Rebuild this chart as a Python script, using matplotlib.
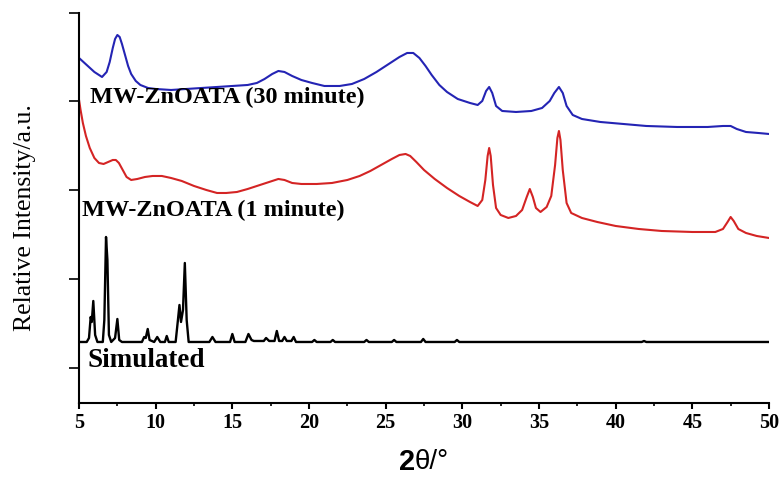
import matplotlib
matplotlib.use("Agg")
import matplotlib.pyplot as plt
from matplotlib.ticker import MultipleLocator

# --- XRD patterns: 2-theta (deg) vs stacked relative intensity (a.u.) ---
mw30_x = [5.0, 5.5, 6.0, 6.5, 6.8, 7.0, 7.2, 7.35, 7.5, 7.65, 7.8, 8.0, 8.2, 8.4,
          8.7, 9.0, 9.5, 10.0, 11.0, 12.0, 13.0, 14.0, 15.0, 16.0, 16.6, 17.1,
          17.6, 18.0, 18.4, 18.9, 19.5, 20.2, 21.0, 22.0, 22.8, 23.6, 24.4, 25.2,
          25.9, 26.4, 26.8, 27.2, 27.6, 28.0, 28.5, 29.0, 29.7, 30.5, 31.0, 31.3,
          31.55, 31.75, 31.95, 32.2, 32.6, 33.5, 34.5, 35.2, 35.7, 36.0, 36.3,
          36.55, 36.8, 37.2, 37.8, 39.0, 40.5, 42.0, 44.0, 46.0, 47.0, 47.5, 47.9,
          48.5, 49.3, 50.0]
mw30_y = [345, 338, 331, 326, 331, 341, 355, 364, 368, 366, 359, 348, 337, 329,
          322, 318, 315, 314, 313, 314, 315, 316, 317, 318, 320, 324,
          329, 332, 331, 327, 323, 320, 317, 317, 319, 324, 331, 339,
          346, 350, 350, 345, 337, 328, 318, 311, 304, 300, 298, 302,
          312, 316, 310, 297, 292, 291, 292, 295, 302, 310, 316,
          310, 297, 288, 284, 281, 279, 277, 276, 276, 277, 277, 274,
          271, 270, 269]

mw1_x = [5.0, 5.1, 5.25, 5.45, 5.7, 6.0, 6.3, 6.6, 6.9, 7.2, 7.4, 7.6, 7.85, 8.1,
         8.4, 8.8, 9.3, 9.8, 10.4, 11.0, 11.7, 12.5, 13.3, 14.0, 14.6, 15.3, 16.0,
         16.8, 17.4, 18.0, 18.4, 18.9, 19.5, 20.5, 21.5, 22.5, 23.3, 24.0, 24.7,
         25.4, 25.9, 26.3, 26.6, 27.0, 27.5, 28.2, 29.0, 29.8, 30.5, 31.0, 31.3,
         31.5, 31.65, 31.75, 31.85, 32.0, 32.2, 32.5, 33.0, 33.5, 33.9, 34.2, 34.4,
         34.6, 34.8, 35.1, 35.5, 35.8, 36.05, 36.2, 36.3, 36.4, 36.55, 36.8, 37.1,
         37.8, 38.8, 40.0, 41.5, 43.0, 45.0, 46.5, 47.0, 47.3, 47.5, 47.7, 48.0,
         48.5, 49.2, 50.0]
mw1_y = [303, 293, 280, 267, 255, 245, 240, 239, 241, 243, 243, 240, 233, 226,
         223, 224, 226, 227, 227, 225, 222, 217, 213, 210, 210, 211, 214,
         218, 221, 224, 223, 220, 219, 219, 220, 223, 227, 232, 238,
         244, 248, 249, 247, 241, 233, 224, 215, 207, 201, 197, 203,
         223, 247, 255, 247, 218, 195, 188, 185, 187, 193, 206, 214,
         206, 195, 191, 196, 207, 238, 265, 272, 263, 233, 200, 190,
         185, 181, 177, 174, 172, 171, 171, 174, 181, 186, 182, 174,
         170, 167, 165]

sim_x = [5.0, 5.5, 5.65, 5.76, 5.83, 5.93, 6.05, 6.2, 6.55, 6.65, 6.76, 6.85, 6.95,
         7.1, 7.35, 7.5, 7.62, 7.8, 9.1, 9.25, 9.35, 9.48, 9.6, 9.9, 10.1, 10.3,
         10.6, 10.72, 10.85, 11.3, 11.45, 11.55, 11.65, 11.78, 11.9, 12.02, 12.15,
         13.5, 13.7, 13.9, 14.85, 15.0, 15.15, 15.85, 16.05, 16.25, 16.4, 17.05,
         17.2, 17.4, 17.75, 17.9, 18.05, 18.25, 18.4, 18.55, 18.85, 19.0, 19.15,
         20.2, 20.35, 20.5, 21.4, 21.55, 21.7, 23.6, 23.75, 23.9, 25.4, 25.55,
         25.7, 27.3, 27.45, 27.6, 29.5, 29.65, 29.8, 41.7, 41.85, 42.0, 50.0]
sim_y = [61, 61, 65, 86, 81, 102, 68, 61, 61, 83, 166, 143, 68,
         61, 65, 84, 63, 61, 61, 66, 65, 74, 63, 61, 66, 61,
         61, 67, 61, 61, 83, 98, 81, 93, 140, 83, 61,
         61, 66, 61, 61, 69, 61, 61, 69, 63, 62, 62,
         65, 62, 62, 72, 62, 62, 66, 62, 62, 66, 61,
         61, 63, 61, 61, 63, 61, 61, 63, 61, 61, 63,
         61, 61, 64, 61, 61, 63, 61, 61, 62, 61, 61]

labels = ["MW-ZnOATA (30 minute)", "MW-ZnOATA (1 minute)", "Simulated"]
x_ticks = [5, 10, 15, 20, 25, 30, 35, 40, 45, 50]
y_ticks = [35, 124, 213, 302, 390]

SERIF = ["Liberation Serif", "DejaVu Serif"]
SANS = ["Liberation Sans", "DejaVu Sans"]

fig = plt.figure(figsize=(7.81, 4.79), dpi=100)
ax = fig.add_axes([0.1012, 0.1587, 0.8834, 0.8142])

ax.plot(mw30_x, mw30_y, color="#2424b4", lw=1.5, solid_joinstyle="round")
ax.plot(mw1_x, mw1_y, color="#d42424", lw=1.5, solid_joinstyle="round")
ax.plot(sim_x, sim_y, color="black", lw=1.7, solid_joinstyle="round")

ax.set_xlim(5, 50)
ax.set_ylim(0, 390)

for side in ("top", "right"):
    ax.spines[side].set_visible(False)
for side in ("left", "bottom"):
    ax.spines[side].set_linewidth(1.5)

ax.set_xticks(x_ticks)
ax.xaxis.set_minor_locator(MultipleLocator(2.5))
ax.set_yticks(y_ticks)
ax.set_yticklabels([])
ax.tick_params(axis="x", which="major", direction="out", length=4.5, width=1.5, pad=3)
ax.tick_params(axis="x", which="minor", direction="out", length=2.5, width=1.2)
ax.tick_params(axis="y", which="major", direction="out", length=7, width=1.2)
for lab in ax.get_xticklabels():
    lab.set_fontfamily(SERIF)
    lab.set_fontweight("bold")
    lab.set_fontsize(14.5)

text_kw = dict(fontfamily=SERIF, fontweight="bold", va="center", ha="left")
ax.text(5.72, 306, labels[0], fontsize=17.5, **text_kw)
ax.text(5.2, 193, labels[1], fontsize=17.5, **text_kw)
ax.text(5.52, 42, labels[2], fontsize=19.5, **text_kw)

# x-axis title: bold "2" followed by regular "θ/°"
y_title = 1 - 462 / 479
fig.text(415 / 781, y_title, "2", ha="right", va="center",
         fontfamily=SANS, fontweight="bold", fontsize=21)
fig.text(415 / 781, y_title, "θ/°", ha="left", va="center",
         fontfamily=SANS, fontsize=20)
fig.text(25 / 781, 1 - 218 / 479, "Relative Intensity/a.u.", rotation=90,
         ha="center", va="center", fontfamily=SERIF, fontsize=18.5)

fig.savefig("out.png", dpi=100)
